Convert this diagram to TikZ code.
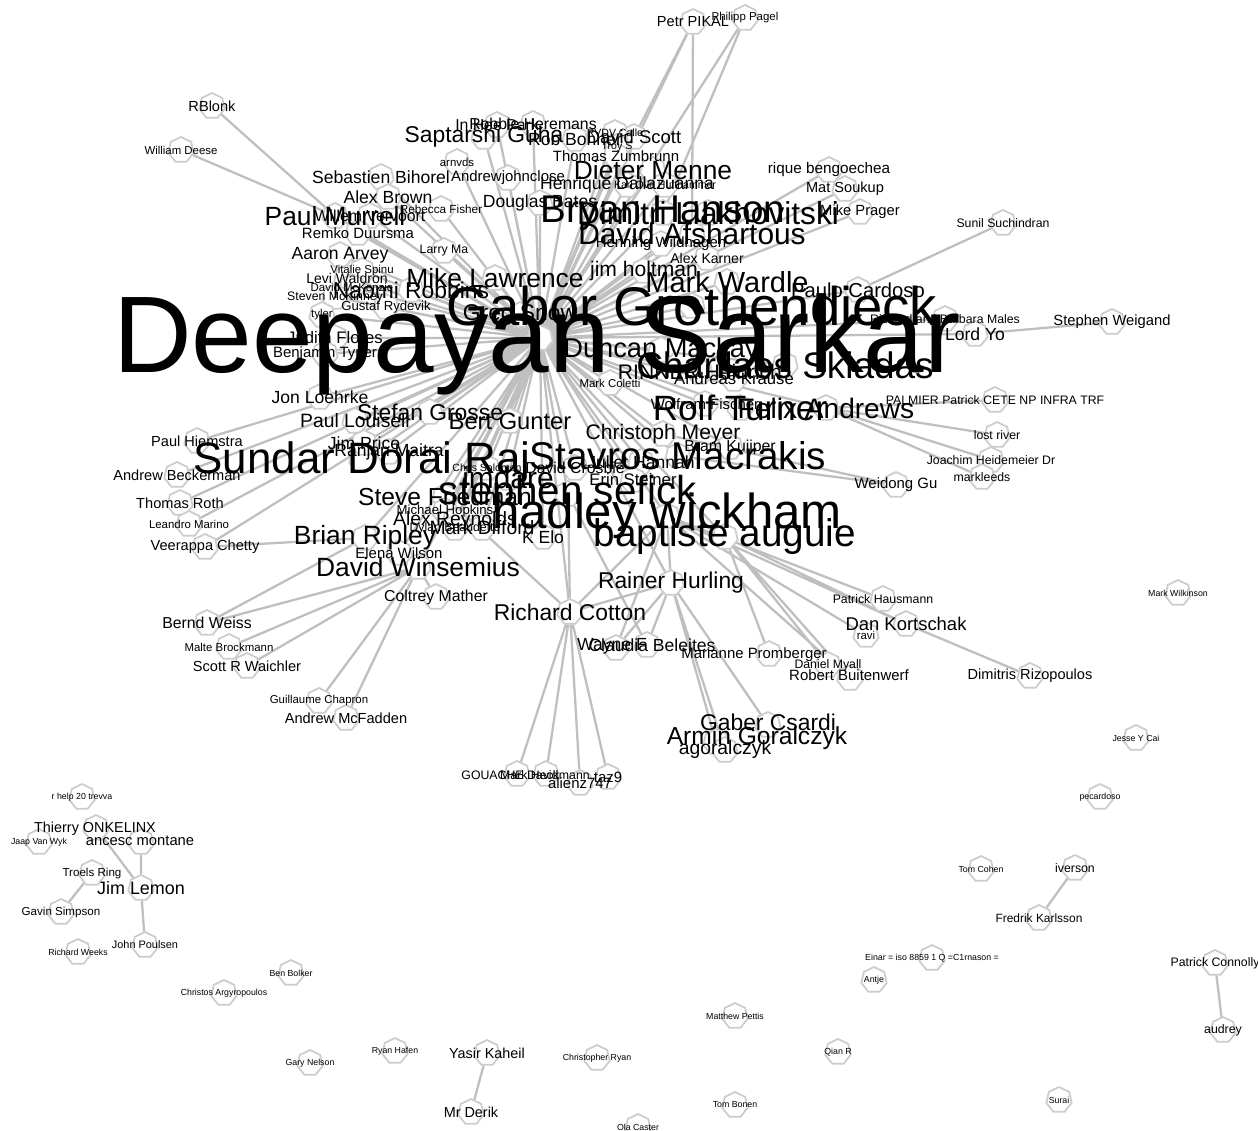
\documentclass[tikz,border=0pt]{standalone}
\usepackage{fontspec}
\setmainfont{Liberation Sans}
\usetikzlibrary{shapes.geometric,backgrounds}
\tikzset{
  vtx/.style={regular polygon, regular polygon sides=7, minimum size=0.52cm, inner sep=0pt, draw=gray!40, fill=white, line width=1pt},
  lab/.style={font=\fontsize{#1}{#1}\selectfont, inner sep=0pt},
  edge/.style={draw=gray!50, line width=1.3pt}
}
\begin{document}
\begin{tikzpicture}[x=0.02cm, y=-0.02cm]
\useasboundingbox (0,0) rectangle (1258,1131);

%%the vertices
\node[vtx] (ds) at (540,338) {};
\node[vtx] (gg) at (692,306) {};
\node[vtx] (sdr) at (362,460) {};
\node[vtx] (sm) at (678,456) {};
\node[vtx] (hw) at (667,516) {};
\node[vtx] (ba) at (725,537) {};
\node[vtx] (ss) at (568,494) {};
\node[vtx] (bh) at (663,213) {};
\node[vtx] (dl) at (708,213) {};
\node[vtx] (da) at (692,234) {};
\node[vtx] (cs) at (785,365) {};
\node[vtx] (rt) at (740,408) {};
\node[vtx] (fa) at (826,408) {};
\node[vtx] (dm) at (653,170) {};
\node[vtx] (mw) at (727,282) {};
\node[vtx] (ml) at (495,278) {};
\node[vtx] (pm) at (335,216) {};
\node[vtx] (dmk) at (661,350) {};
\node[vtx] (sg) at (484,137) {};
\node[vtx] (nr) at (411,290) {};
\node[vtx] (br) at (365,538) {};
\node[vtx] (dw) at (418,567) {};
\node[vtx] (sf) at (445,497) {};
\node[vtx] (gs) at (520,315) {};
\node[vtx] (pc) at (858,290) {};
\node[vtx] (rc) at (570,612) {};
\node[vtx] (rhu) at (671,583) {};
\node[vtx] (bg) at (510,421) {};
\node[vtx] (sgr) at (430,412) {};
\node[vtx] (jf) at (335,338) {};
\node[vtx] (cm) at (663,434) {};
\node[vtx] (jh) at (644,271) {};
\node[vtx] (rnh) at (700,372) {};
\node[vtx] (imd) at (508,478) {};
\node[vtx] (hdc) at (627,185) {};
\node[vtx] (sb) at (381,177) {};
\node[vtx] (ab) at (388,197) {};
\node[vtx] (db) at (540,203) {};
\node[vtx] (wv) at (370,216) {};
\node[vtx] (rd) at (358,233) {};
\node[vtx] (aa) at (340,255) {};
\node[vtx] (lw) at (347,278) {};
\node[vtx] (vs) at (362,271) {};
\node[vtx] (dmc) at (352,287) {};
\node[vtx] (smk) at (335,297) {};
\node[vtx] (gr) at (386,307) {};
\node[vtx] (ty) at (322,315) {};
\node[vtx] (bt) at (325,354) {};
\node[vtx] (lm) at (444,251) {};
\node[vtx] (rf) at (441,209) {};
\node[vtx] (ihp) at (497,125) {};
\node[vtx] (rhe) at (533,124) {};
\node[vtx] (an) at (457,162) {};
\node[vtx] (ajc) at (508,178) {};
\node[vtx] (rb) at (575,139) {};
\node[vtx] (dsc) at (634,137) {};
\node[vtx] (rvc) at (615,133) {};
\node[vtx] (tsy) at (617,147) {};
\node[vtx] (tz) at (616,156) {};
\node[vtx] (kh) at (665,185) {};
\node[vtx] (hwi) at (661,244) {};
\node[vtx] (ak) at (707,258) {};
\node[vtx] (mp) at (860,212) {};
\node[vtx] (mso) at (845,189) {};
\node[vtx] (rbe) at (829,170) {};
\node[vtx] (ssu) at (1003,223) {};
\node[vtx] (rbm) at (945,319) {};
\node[vtx] (ly) at (975,334) {};
\node[vtx] (sw) at (1112,322) {};
\node[vtx] (akr) at (734,379) {};
\node[vtx] (mc) at (610,383) {};
\node[vtx] (wf) at (705,404) {};
\node[vtx] (pal) at (995,400) {};
\node[vtx] (lr) at (997,435) {};
\node[vtx] (jhd) at (991,460) {};
\node[vtx] (mkl) at (982,477) {};
\node[vtx] (wg) at (896,485) {};
\node[vtx] (bk) at (730,447) {};
\node[vtx] (jha) at (641,462) {};
\node[vtx] (es) at (633,480) {};
\node[vtx] (dcr) at (575,468) {};
\node[vtx] (cso) at (487,468) {};
\node[vtx] (mhk) at (445,511) {};
\node[vtx] (are) at (455,521) {};
\node[vtx] (dbe) at (455,528) {};
\node[vtx] (mdi) at (482,528) {};
\node[vtx] (ke) at (543,537) {};
\node[vtx] (jl) at (320,397) {};
\node[vtx] (pl) at (355,421) {};
\node[vtx] (jp) at (364,443) {};
\node[vtx] (rm) at (389,452) {};
\node[vtx] (ph) at (197,441) {};
\node[vtx] (abk) at (177,475) {};
\node[vtx] (tr) at (180,503) {};
\node[vtx] (lma) at (189,524) {};
\node[vtx] (vc) at (205,547) {};
\node[vtx] (ew) at (399,553) {};
\node[vtx] (cmt) at (436,597) {};
\node[vtx] (bw) at (207,623) {};
\node[vtx] (mb) at (229,647) {};
\node[vtx] (srw) at (247,666) {};
\node[vtx] (gc) at (319,701) {};
\node[vtx] (amf) at (346,718) {};
\node[vtx] (rbl) at (212,106) {};
\node[vtx] (wd) at (181,150) {};
\node[vtx] (ppk) at (693,22) {};
\node[vtx] (pp) at (745,18) {};
\node[vtx] (cb) at (647,645) {};
\node[vtx] (wfr) at (616,648) {};
\node[vtx] (mpr) at (769,654) {};
\node[vtx] (dmy) at (828,665) {};
\node[vtx] (rbu) at (850,678) {};
\node[vtx] (phs) at (883,599) {};
\node[vtx] (dk) at (906,624) {};
\node[vtx] (rav) at (866,635) {};
\node[vtx] (drz) at (1030,676) {};
\node[vtx] (gcs) at (768,725) {};
\node[vtx] (agk) at (716,742) {};
\node[vtx] (ago) at (725,750) {};
\node[vtx] (gd) at (517,774) {};
\node[vtx] (mhe) at (546,774) {};
\node[vtx] (al) at (580,783) {};
\node[vtx] (tz9) at (608,777) {};
%%the loose ones
\node[vtx] (mwi) at (1178,593) {};
\node[vtx] (jyc) at (1136,738) {};
\node[vtx] (pec) at (1100,797) {};
\node[vtx] (tco) at (981,869) {};
\node[vtx] (iv) at (1075,868) {};
\node[vtx] (fk) at (1039,918) {};
\node[vtx] (pco) at (1215,963) {};
\node[vtx] (aud) at (1223,1030) {};
\node[vtx] (ein) at (932,958) {};
\node[vtx] (ant) at (874,980) {};
\node[vtx] (mpe) at (735,1016) {};
\node[vtx] (qr) at (838,1052) {};
\node[vtx] (tbo) at (735,1105) {};
\node[vtx] (sur) at (1059,1100) {};
\node[vtx] (oc) at (638,1127) {};
\node[vtx] (cr) at (597,1058) {};
\node[vtx] (yk) at (487,1053) {};
\node[vtx] (mrd) at (471,1112) {};
\node[vtx] (rha) at (395,1051) {};
\node[vtx] (gn) at (310,1063) {};
\node[vtx] (ca) at (224,993) {};
\node[vtx] (bb) at (291,973) {};
\node[vtx] (rw) at (78,952) {};
\node[vtx] (jpo) at (145,945) {};
\node[vtx] (gsi) at (61,912) {};
\node[vtx] (tri) at (92,873) {};
\node[vtx] (jle) at (141,888) {};
\node[vtx] (jvw) at (39,842) {};
\node[vtx] (to) at (96,828) {};
\node[vtx] (am) at (141,842) {};
\node[vtx] (rht) at (82,797) {};

%%the edges, behind the vertices
\begin{scope}[on background layer]
\draw[edge] (ds) -- (gg) (ds) -- (sdr) (ds) -- (sm) (ds) -- (hw) (ds) -- (ba)
  (ds) -- (ss) (ds) -- (bh) (ds) -- (dl) (ds) -- (da) (ds) -- (cs) (ds) -- (rt)
  (ds) -- (fa) (ds) -- (dm) (ds) -- (mw) (ds) -- (ml) (ds) -- (pm) (ds) -- (dmk)
  (ds) -- (sg) (ds) -- (nr) (ds) -- (br) (ds) -- (dw) (ds) -- (sf) (ds) -- (gs)
  (ds) -- (pc) (ds) -- (rc) (ds) -- (rhu) (ds) -- (bg) (ds) -- (sgr) (ds) -- (jf)
  (ds) -- (cm) (ds) -- (jh) (ds) -- (rnh) (ds) -- (imd) (ds) -- (hdc) (ds) -- (sb)
  (ds) -- (ab) (ds) -- (db) (ds) -- (wv) (ds) -- (rd) (ds) -- (aa) (ds) -- (lw)
  (ds) -- (vs) (ds) -- (dmc) (ds) -- (smk) (ds) -- (gr) (ds) -- (ty) (ds) -- (bt)
  (ds) -- (lm) (ds) -- (rf) (ds) -- (ihp) (ds) -- (rhe) (ds) -- (an) (ds) -- (ajc)
  (ds) -- (rb) (ds) -- (dsc) (ds) -- (rvc) (ds) -- (tsy) (ds) -- (tz) (ds) -- (kh)
  (ds) -- (hwi) (ds) -- (ak) (ds) -- (mp) (ds) -- (mso) (ds) -- (rbe) (ds) -- (rbm)
  (ds) -- (ly) (ds) -- (akr) (ds) -- (mc) (ds) -- (wf) (ds) -- (bk) (ds) -- (jha)
  (ds) -- (es) (ds) -- (dcr) (ds) -- (cso) (ds) -- (mhk) (ds) -- (are) (ds) -- (dbe)
  (ds) -- (mdi) (ds) -- (ke) (ds) -- (jl) (ds) -- (pl) (ds) -- (jp) (ds) -- (rm)
  (ds) -- (ph) (ds) -- (abk) (ds) -- (tr) (ds) -- (lma) (ds) -- (vc) (ds) -- (ew)
  (ds) -- (ppk) (ds) -- (pp);
%%second hubs
\draw[edge] (pm) -- (rbl) (pm) -- (wd) (pc) -- (ssu) (ly) -- (sw)
  (fa) -- (pal) (fa) -- (lr) (fa) -- (jhd) (fa) -- (mkl) (sm) -- (wg) (cm) -- (wg)
  (dw) -- (bw) (dw) -- (mb) (dw) -- (srw) (dw) -- (gc) (dw) -- (amf) (dw) -- (cmt)
  (br) -- (vc) (br) -- (bw)
  (rc) -- (gd) (rc) -- (mhe) (rc) -- (al) (rc) -- (tz9) (rc) -- (rhu)
  (rc) -- (ss) (rc) -- (sf) (rc) -- (hw)
  (rhu) -- (gcs) (rhu) -- (agk) (rhu) -- (ago) (rhu) -- (cb) (rhu) -- (wfr) (rhu) -- (hw)
  (cb) -- (ss) (wfr) -- (hw)
  (hw) -- (phs) (hw) -- (dk) (dk) -- (drz) (hw) -- (rav) (hw) -- (rbu)
  (ba) -- (mpr) (ba) -- (dmy) (ba) -- (rbu) (ba) -- (dk)
  (ppk) -- (dsc) (ppk) -- (da) (pp) -- (bh);
%%the small groups
\draw[edge] (jle) -- (to) (jle) -- (am) (jle) -- (jpo) (tri) -- (gsi)
  (yk) -- (mrd) (iv) -- (fk) (pco) -- (aud);
\end{scope}

%%the names, on top of everything
\node[lab=62] (tds) at (537,344) {Deepayan Sarkar};
\node[lab=31] (tgg) at (gg) {Gabor Grothendieck};
\node[lab=25] (tsdr) at (362,462) {Sundar Dorai Raj};
\node[lab=22] (tsm) at (sm) {Stavros Macrakis};
\node[lab=28] (thw) at (hw) {hadley wickham};
\node[lab=22] (tba) at (ba) {baptiste auguie};
\node[lab=23] (tss) at (ss) {stephen sefick};
\node[lab=22] (tbh) at (bh) {Bryan Hanson};
\node[lab=18] (tdl) at (dl) {Dimitri Liakhovitski};
\node[lab=17] (tda) at (da) {David Afshartous};
\node[lab=21] (tcs) at (cs) {Charilaos Skiadas};
\node[lab=20] (trt) at (rt) {Rolf Turner};
\node[lab=16] (tfa) at (fa) {Felix Andrews};
\node[lab=15] (tdm) at (dm) {Dieter Menne};
\node[lab=16.5] (tmw) at (mw) {Mark Wardle};
\node[lab=15] (tml) at (ml) {Mike Lawrence};
\node[lab=15] (tpm) at (pm) {Paul Murrell};
\node[lab=15.5] (tdmk) at (dmk) {Duncan Mackay};
\node[lab=13] (tsg) at (sg) {Saptarshi Guha};
\node[lab=13] (tnr) at (nr) {Naomi Robbins};
\node[lab=15] (tbr) at (br) {Brian Ripley};
\node[lab=15] (tdw) at (dw) {David Winsemius};
\node[lab=14] (tsf) at (sf) {Steve Friedman};
\node[lab=13] (tgs) at (gs) {Greg Snow};
\node[lab=11.5] (tpc) at (pc) {Paulo Cardoso};
\node[lab=13] (trc) at (rc) {Richard Cotton};
\node[lab=13] (trhu) at (rhu) {Rainer Hurling};
\node[lab=13.5] (tbg) at (bg) {Bert Gunter};
\node[lab=13] (tsgr) at (sgr) {Stefan Grosse};
\node[lab=9.5] (tjf) at (jf) {Judith Flores};
\node[lab=12] (tcm) at (cm) {Christoph Meyer};
\node[lab=12] (tjh) at (jh) {jim holtman};
\node[lab=12] (trnh) at (rnh) {RINNER Heinrich};
\node[lab=17] (timd) at (imd) {imdare};
\node[lab=10] (thdc) at (hdc) {Henrique Dallazuanna};
\node[lab=10] (tsb) at (sb) {Sebastien Bihorel};
\node[lab=10] (tab) at (ab) {Alex Brown};
\node[lab=10] (tdb) at (db) {Douglas Bates};
\node[lab=9] (twv) at (wv) {Willem Vervoort};
\node[lab=8.5] (trd) at (rd) {Remko Duursma};
\node[lab=10] (taa) at (aa) {Aaron Arvey};
\node[lab=8] (tlw) at (lw) {Levi Waldron};
\node[lab=6.5] (tvs) at (vs) {Vitalie Spinu};
\node[lab=6.5] (tdmc) at (dmc) {David McKenzie};
\node[lab=7] (tsmk) at (smk) {Steven McKinney};
\node[lab=7.5] (tgr) at (gr) {Gustaf Rydevik};
\node[lab=6.5] (tty) at (ty) {tyler};
\node[lab=8.5] (tbt) at (bt) {Benjamin Tyner};
\node[lab=7] (tlm) at (lm) {Larry Ma};
\node[lab=6.7] (trf) at (rf) {Rebecca Fisher};
\node[lab=9] (tihp) at (ihp) {In Hee Park};
\node[lab=9] (trhe) at (rhe) {Robbie Heremans};
\node[lab=6.5] (tan) at (an) {arnvds};
\node[lab=8.5] (tajc) at (ajc) {Andrewjohnclose};
\node[lab=10] (trb) at (rb) {Rob Bonner};
\node[lab=10.5] (tdsc) at (dsc) {David Scott};
\node[lab=6] (trvc) at (rvc) {RVDV Calle};
\node[lab=6] (ttsy) at (tsy) {Troy S};
\node[lab=8.5] (ttz) at (tz) {Thomas Zumbrunn};
\node[lab=6] (tkh) at (kh) {Karl Ove Hufthammer};
\node[lab=8.5] (thwi) at (hwi) {Henning Wildhagen};
\node[lab=8] (tak) at (ak) {Alex Karner};
\node[lab=8.4] (tmp) at (mp) {Mike Prager};
\node[lab=8.3] (tmso) at (mso) {Mat Soukup};
\node[lab=8.7] (trbe) at (rbe) {rique bengoechea};
\node[lab=7] (tssu) at (ssu) {Sunil Suchindran};
\node[lab=7] (trbm) at (rbm) {Richard and Barbara Males};
\node[lab=10] (tly) at (ly) {Lord Yo};
\node[lab=8.4] (tsw) at (sw) {Stephen Weigand};
\node[lab=9.5] (takr) at (akr) {Andreas Krause};
\node[lab=6.5] (tmc) at (mc) {Mark Coletti};
\node[lab=8.5] (twf) at (wf) {Wolfram Fischer};
\node[lab=7] (tpal) at (pal) {PALMIER Patrick CETE NP INFRA TRF};
\node[lab=7] (tlr) at (lr) {lost river};
\node[lab=7] (tjhd) at (jhd) {Joachim Heidemeier Dr};
\node[lab=7] (tmkl) at (mkl) {markleeds};
\node[lab=8.5] (twg) at (wg) {Weidong Gu};
\node[lab=9] (tbk) at (bk) {Bram Kuijper};
\node[lab=10] (tjha) at (jha) {Juliet Hannah};
\node[lab=9.5] (tes) at (es) {Erin Steiner};
\node[lab=9] (tdcr) at (dcr) {David Crosbie};
\node[lab=6] (tcso) at (cso) {Chris Solomon};
\node[lab=7.5] (tmhk) at (mhk) {Michael Hopkins};
\node[lab=11] (tare) at (are) {Alex Reynolds};
\node[lab=7] (tdbe) at (dbe) {Dylan Beaudette};
\node[lab=11] (tmdi) at (mdi) {Mark Difford};
\node[lab=10] (tke) at (ke) {K Elo};
\node[lab=10] (tjl) at (jl) {Jon Loehrke};
\node[lab=11] (tpl) at (pl) {Paul Louisell};
\node[lab=10] (tjp) at (jp) {Jim Price};
\node[lab=10] (trm) at (rm) {Ranjan Maitra};
\node[lab=8.3] (tph) at (ph) {Paul Hiemstra};
\node[lab=8.3] (tabk) at (abk) {Andrew Beckerman};
\node[lab=8.3] (ttr) at (tr) {Thomas Roth};
\node[lab=6.5] (tlma) at (lma) {Leandro Marino};
\node[lab=8.3] (tvc) at (vc) {Veerappa Chetty};
\node[lab=8.5] (tew) at (ew) {Elena Wilson};
\node[lab=9] (tcmt) at (cmt) {Coltrey Mather};
\node[lab=9] (tbw) at (bw) {Bernd Weiss};
\node[lab=6.5] (tmb) at (mb) {Malte Brockmann};
\node[lab=8.3] (tsrw) at (srw) {Scott R Waichler};
\node[lab=6.5] (tgc) at (gc) {Guillaume Chapron};
\node[lab=8.3] (tamf) at (amf) {Andrew McFadden};
\node[lab=8.3] (trbl) at (rbl) {RBlonk};
\node[lab=6.5] (twd) at (wd) {William Deese};
\node[lab=8.3] (tppk) at (ppk) {Petr PIKAL};
\node[lab=6.5] (tpp) at (pp) {Philipp Pagel};
\node[lab=10] (tcb) at (652,645) {Claudia Beleites};
\node[lab=10] (twfr) at (612,646) {Wayne F};
\node[lab=8.5] (tmpr) at (754,655) {Marianne Promberger};
\node[lab=7] (tdmy) at (828,665) {Daniel Myall};
\node[lab=8.5] (trbu) at (849,675) {Robert Buitenwerf};
\node[lab=7] (tphs) at (phs) {Patrick Hausmann};
\node[lab=10.5] (tdk) at (dk) {Dan Kortschak};
\node[lab=6.5] (trav) at (rav) {ravi};
\node[lab=8.3] (tdrz) at (drz) {Dimitris Rizopoulos};
\node[lab=13] (tgcs) at (768,722) {Gaber Csardi};
\node[lab=14] (tagk) at (757,738) {Armin Goralczyk};
\node[lab=11] (tago) at (ago) {agoralczyk};
\node[lab=7] (tgd) at (510,775) {GOUACHE David};
\node[lab=7] (tmhe) at (545,775) {Mark Heckmann};
\node[lab=8.5] (tal) at (al) {alienz747};
\node[lab=8.5] (ttz9) at (tz9) {taz9};
%%loose names
\node[lab=5] (tmwi) at (mwi) {Mark Wilkinson};
\node[lab=5] (tjyc) at (jyc) {Jesse Y Cai};
\node[lab=5] (tpec) at (pec) {pecardoso};
\node[lab=5] (ttco) at (tco) {Tom Cohen};
\node[lab=7] (tiv) at (iv) {iverson};
\node[lab=6.8] (tfk) at (fk) {Fredrik Karlsson};
\node[lab=7] (tpco) at (pco) {Patrick Connolly};
\node[lab=7] (taud) at (aud) {audrey};
\node[lab=5] (tein) at (ein) {Einar = iso 8859 1 Q =C1rnason =};
\node[lab=5] (tant) at (ant) {Antje};
\node[lab=5] (tmpe) at (mpe) {Matthew Pettis};
\node[lab=5] (tqr) at (qr) {Qian R};
\node[lab=5] (ttbo) at (tbo) {Tom Bonen};
\node[lab=5] (tsur) at (sur) {Surai};
\node[lab=5] (toc) at (oc) {Ola Caster};
\node[lab=5] (tcr) at (cr) {Christopher Ryan};
\node[lab=8.2] (tyk) at (yk) {Yasir Kaheil};
\node[lab=8.2] (tmrd) at (mrd) {Mr Derik};
\node[lab=5] (trha) at (rha) {Ryan Hafen};
\node[lab=5] (tgn) at (gn) {Gary Nelson};
\node[lab=5] (tca) at (ca) {Christos Argyropoulos};
\node[lab=5] (tbb) at (bb) {Ben Bolker};
\node[lab=5] (trw) at (rw) {Richard Weeks};
\node[lab=6.2] (tjpo) at (jpo) {John Poulsen};
\node[lab=6.6] (tgsi) at (gsi) {Gavin Simpson};
\node[lab=6.6] (ttri) at (tri) {Troels Ring};
\node[lab=10.2] (tjle) at (jle) {Jim Lemon};
\node[lab=5] (tjvw) at (jvw) {Jaap Van Wyk};
\node[lab=8.2] (tto) at (95,829) {Thierry ONKELINX};
\node[lab=8.4] (tam) at (140,841) {ancesc montane};
\node[lab=5] (trht) at (rht) {r help 20 trevva};
\end{tikzpicture}
\end{document}
